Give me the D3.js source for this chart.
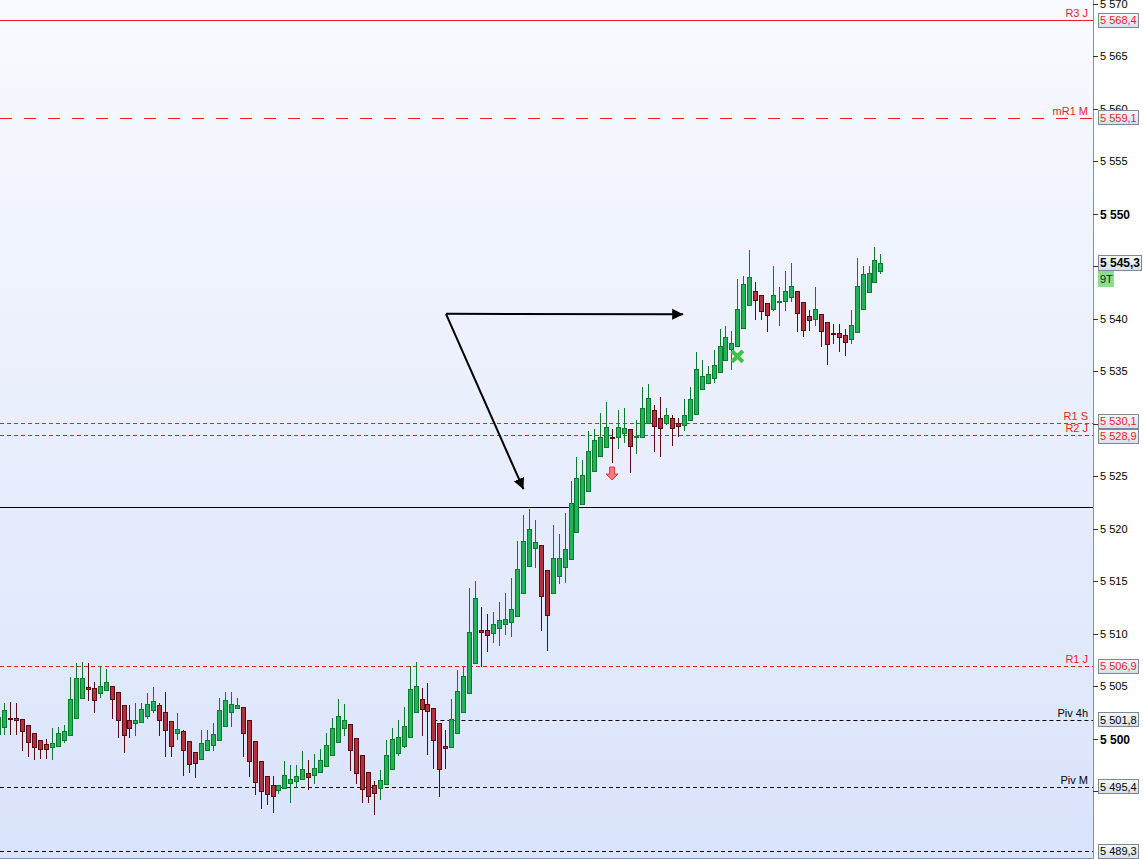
<!DOCTYPE html>
<html><head><meta charset="utf-8">
<script src="https://cdn.jsdelivr.net/npm/d3@7"></script>
<style>
body{margin:0;background:#fff;}
svg{display:block;font-family:"Liberation Sans",Arial,sans-serif;}
</style>
</head><body>
<svg id="chart" width="1143" height="859"></svg>
<script>
// ---------------- DATA ----------------
const open  = [5500.4,5501.1,5502.0,5502.0,5501.9,5501.3,5500.5,5499.9,5499.5,5499.2,5499.3,5499.9,5500.3,5502.0,5503.9,5504.9,5504.8,5504.3,5504.6,5505.0,
5504.4,5503.2,5501.8,5501.5,5501.6,5502.2,5502.7,5503.2,5502.5,5501.7,5500.5,5500.7,5499.8,5498.7,5498.1,5498.9,5499.4,5499.9,5501.2,5502.5,
5502.9,5503.0,5501.8,5499.8,5497.9,5496.4,5495.6,5495.1,5495.3,5495.8,5496.0,5496.2,5496.7,5496.5,5496.8,5497.4,5498.4,5499.7,5501.0,5501.4,
5500.1,5498.4,5496.8,5495.6,5495.3,5495.7,5497.1,5498.6,5499.3,5500.2,5502.5,5503.8,5503.3,5502.9,5501.5,5499.3,5499.2,5500.5,5502.5,5504.3,
5507.2,5510.3,5510.3,5510.1,5510.5,5510.9,5511.1,5511.7,5513.9,5516.4,5518.2,5518.4,5516.1,5513.9,5515.5,5516.3,5517.1,5519.7,5522.3,5523.6,
5525.5,5526.9,5527.8,5528.7,5528.7,5529.1,5529.5,5528.7,5528.7,5530.1,5531.3,5530.5,5530.1,5530.5,5530.1,5529.9,5530.3,5530.9,5533.3,5533.9,
5534.3,5534.9,5536.1,5537.1,5537.4,5539.1,5541.3,5542.6,5542.2,5541.5,5540.9,5541.6,5541.7,5542.1,5542.6,5541.6,5540.2,5540.0,5540.4,5539.7,
5538.62,5538.6,5538.4,5538.1,5538.7,5540.9,5542.5,5543.5,5544.5];
const high  = [5502.3,5503.4,5503.5,5503.4,5501.9,5501.3,5500.5,5499.9,5500.0,5501.0,5501.1,5501.3,5505.9,5507.2,5507.3,5507.2,5505.4,5506.9,5506.6,5505.0,
5504.4,5503.2,5503.2,5503.4,5503.4,5504.3,5504.9,5503.4,5504.4,5501.7,5502.4,5500.8,5499.8,5498.7,5500.8,5500.8,5501.5,5503.9,5504.4,5504.4,
5503.9,5503.0,5501.8,5499.8,5497.9,5496.4,5496.4,5495.6,5497.9,5497.5,5497.5,5498.8,5498.0,5498.5,5499.0,5500.5,5502.0,5503.8,5503.3,5501.4,
5500.1,5498.4,5496.8,5496.0,5497.0,5499.9,5501.0,5501.8,5503.0,5506.9,5507.3,5504.8,5505.3,5502.9,5501.5,5500.8,5503.8,5506.5,5506.8,5514.3,
5515.0,5512.5,5511.9,5512.1,5513.0,5513.9,5515.3,5518.8,5521.3,5521.9,5520.8,5518.4,5516.1,5520.3,5519.5,5521.5,5524.5,5526.8,5526.5,5529.3,
5529.5,5531.0,5532.1,5529.5,5531.3,5531.5,5529.5,5530.3,5533.5,5533.8,5531.8,5532.5,5531.5,5530.8,5530.5,5532.3,5533.5,5536.8,5536.1,5535.5,
5537.0,5539.0,5539.3,5538.8,5543.8,5544.1,5546.5,5543.5,5542.2,5541.5,5545.0,5543.0,5544.5,5545.3,5542.6,5541.6,5540.8,5543.0,5540.4,5539.7,
5539.5,5539.5,5539.0,5540.8,5545.8,5545.0,5545.0,5546.8,5546.1];
const low   = [5500.3,5500.4,5500.4,5500.4,5498.9,5498.3,5498.1,5498.2,5498.2,5498.1,5499.3,5499.7,5500.3,5502.0,5503.9,5503.7,5502.5,5504.0,5504.6,5502.0,
5500.2,5498.7,5500.2,5500.3,5501.6,5502.0,5502.5,5500.3,5498.3,5498.3,5500.0,5496.5,5496.8,5496.3,5498.1,5498.9,5498.9,5499.9,5501.2,5501.2,
5502.9,5498.3,5496.4,5494.7,5493.4,5493.8,5493.0,5494.8,5495.3,5494.0,5495.4,5496.2,5495.2,5495.8,5496.8,5497.4,5498.4,5499.7,5500.3,5497.0,
5495.8,5494.0,5494.0,5492.8,5494.3,5495.7,5497.1,5498.4,5499.2,5500.2,5502.5,5500.3,5498.5,5497.2,5494.5,5497.2,5499.2,5500.5,5502.5,5504.3,
5507.2,5506.9,5508.3,5509.2,5508.9,5510.0,5509.8,5511.7,5513.9,5516.4,5516.3,5510.3,5508.4,5513.9,5514.8,5514.9,5517.1,5519.7,5522.3,5523.6,
5525.5,5526.9,5527.8,5526.3,5527.7,5528.2,5525.4,5527.2,5528.7,5530.1,5527.4,5526.9,5530.0,5528.0,5528.8,5529.4,5530.3,5530.9,5533.3,5533.9,
5534.0,5534.9,5536.1,5535.2,5537.4,5539.1,5541.3,5540.0,5540.0,5538.8,5540.8,5539.4,5540.8,5541.7,5538.8,5538.3,5538.9,5539.4,5537.4,5535.7,
5537.7,5536.9,5536.5,5537.7,5538.7,5540.9,5542.5,5543.5,5544.3];
const close = [5502.1,5502.7,5501.9,5501.8,5500.7,5499.7,5499.2,5499.0,5499.0,5499.6,5500.5,5500.7,5503.8,5505.8,5505.8,5504.7,5503.7,5505.0,5505.4,5503.8,
5501.8,5500.3,5501.0,5501.8,5502.8,5503.3,5503.6,5501.8,5500.8,5499.3,5500.9,5498.9,5497.6,5497.7,5499.6,5499.9,5500.4,5502.7,5503.7,5503.3,
5503.2,5500.5,5497.9,5495.9,5495.0,5494.7,5494.5,5495.6,5496.5,5496.2,5496.4,5497.1,5496.3,5497.2,5498.0,5499.4,5501.0,5502.2,5501.8,5498.9,
5496.7,5495.2,5494.5,5494.8,5496.1,5498.4,5500.0,5500.2,5501.2,5504.7,5505.0,5502.8,5502.6,5499.9,5497.1,5499.1,5501.9,5504.5,5506.0,5510.2,
5513.4,5510.2,5509.9,5510.9,5511.3,5511.4,5512.3,5516.2,5518.8,5520.0,5518.7,5513.6,5511.8,5517.2,5517.2,5518.1,5522.4,5524.8,5525.1,5527.4,
5528.4,5528.7,5529.7,5528.6,5529.7,5529.6,5527.9,5528.8,5531.5,5532.4,5529.8,5529.6,5530.8,5529.6,5529.8,5530.8,5532.3,5535.2,5534.5,5534.7,
5535.6,5537.4,5538.2,5537.7,5540.9,5543.3,5544.0,5541.8,5540.7,5540.3,5542.2,5541.7,5542.6,5543.1,5540.5,5538.9,5539.9,5540.9,5538.8,5537.6,
5538.58,5538.2,5537.8,5539.4,5543.1,5544.2,5544.3,5545.6,5545.3];

const yTicks     = [5495,5500,5505,5510,5515,5520,5525,5530,5535,5540,5545,5550,5555,5560,5565,5570];
const boldTicks  = [5500,5550];
const levelNames  = ["R3 J","mR1 M","R1 S","R2 J","R1 J","Piv 4h","Piv M",""];
const levelValues = [5568.4,5559.1,5530.1,5528.9,5506.9,5501.8,5495.4,5489.3];
const levelStartIndex = [0,0,0,0,0,73,0,0];
const lastPrice = 5545.3;
const lastTag = "9T";
const trendLevel = 5522.1;
const arrowOrigin = {i:75.1, p:5540.45};
const arrowTargets = [{i:88.1, p:5523.75},{i:114.9, p:5540.4}];
const sellSignal = {i:103, p:5525.9};
const crossSignal = {i:124, p:5536.4};

// ---------------- STYLE / LAYOUT ----------------
const W = 1143, H = 859, plotR = 1093, plotB = 858;
const levelStyle = {
  "R3 J":{c:"#ee1c25",dash:null},
  "mR1 M":{c:"#ee1c25",dash:"12,12"},
  "R1 S":{c:"#ee1c25",dash:"4,3"},
  "R2 J":{c:"#ee1c25",dash:"4,3"},
  "R1 J":{c:"#ee1c25",dash:"4,3"},
  "Piv 4h":{c:"#000",dash:"4,3"},
  "Piv M":{c:"#000",dash:"4,3"},
  "":{c:"#000",dash:"4,3"}
};

const svg = d3.select("#chart");
const x = d3.scaleLinear().domain([0, 148]).range([-1.63, 880.45]);
const y = d3.scaleLinear().domain([5570, 5490]).range([3.5, 3.5 + 80 * 10.502]);
const loc = d3.formatLocale({decimal:",", thousands:" ", grouping:[3], currency:["",""]});
const fmtInt = loc.format(",.0f");
const fmt1   = loc.format(",.1f");

const defs = svg.append("defs");
const bg = defs.append("linearGradient").attr("id","bg").attr("x1",0).attr("y1",0).attr("x2",0).attr("y2",1);
bg.append("stop").attr("offset","0%").attr("stop-color","#f9fafe");
bg.append("stop").attr("offset","100%").attr("stop-color","#d9e3fb");
const bx = defs.append("linearGradient").attr("id","boxg").attr("x1",0).attr("y1",0).attr("x2",0).attr("y2",1);
bx.append("stop").attr("offset","0%").attr("stop-color","#f6f8fc");
bx.append("stop").attr("offset","100%").attr("stop-color","#d8dfea");
defs.append("clipPath").attr("id","clip").append("rect").attr("x",0).attr("y",0).attr("width",plotR).attr("height",plotB);
const mk = defs.append("marker").attr("id","ah").attr("viewBox","0 0 10 10").attr("refX",10).attr("refY",5)
  .attr("markerWidth",11).attr("markerHeight",12).attr("markerUnits","userSpaceOnUse").attr("orient","auto");
mk.append("path").attr("d","M0,0 L10,5 L0,10 Z").attr("fill","#000");

svg.append("rect").attr("width",W).attr("height",H).attr("fill","#fff");
svg.append("rect").attr("width",plotR).attr("height",plotB).attr("fill","url(#bg)");

const plot = svg.append("g").attr("clip-path","url(#clip)");

// level lines
const crisp = v => Math.round(v) + 0.5;
levelValues.forEach((v,k) => {
  const st = levelStyle[levelNames[k]];
  plot.append("line")
    .attr("x1", levelStartIndex[k] ? x(levelStartIndex[k]) : 0).attr("x2", plotR)
    .attr("y1", crisp(y(v))).attr("y2", crisp(y(v)))
    .attr("stroke", st.c).attr("stroke-width",1)
    .attr("stroke-dasharray", st.dash);
});
plot.append("line").attr("x1",0).attr("x2",plotR)
  .attr("y1",crisp(y(trendLevel))).attr("y2",crisp(y(trendLevel)))
  .attr("stroke","#000").attr("stroke-width",1);

// candles
const data = open.map((o,i)=>({i,o,h:high[i],l:low[i],c:close[i]}));
const up = d => d.c >= d.o;
const cg = plot.append("g");
const g = cg.selectAll("g").data(data).join("g");
g.append("line")
  .attr("x1", d=>Math.round(x(d.i))+0.5).attr("x2", d=>Math.round(x(d.i))+0.5)
  .attr("y1", d=>Math.round(y(d.h))).attr("y2", d=>Math.round(y(d.l))+1)
  .attr("stroke", d=>up(d)?"#0b7a2e":"#5c0a12").attr("stroke-width",1);
g.append("rect")
  .attr("x", d=>Math.round(x(d.i))-2+0.5).attr("width",4)
  .attr("y", d=>crisp(y(Math.max(d.o,d.c))))
  .attr("height", d=>Math.max(1, Math.round(y(Math.min(d.o,d.c))) - Math.round(y(Math.max(d.o,d.c)))))
  .attr("fill", d=>up(d)?"#22b257":"#b3303f")
  .attr("stroke", d=>up(d)?"#0b7a2e":"#5c0a12").attr("stroke-width",1);

// annotation arrows
arrowTargets.forEach(t => {
  plot.append("line")
    .attr("x1", x(arrowOrigin.i)).attr("y1", y(arrowOrigin.p))
    .attr("x2", x(t.i)).attr("y2", y(t.p))
    .attr("stroke","#000").attr("stroke-width",2)
    .attr("marker-end","url(#ah)");
});

// sell signal (red down arrow)
const sx = Math.round(x(sellSignal.i)), sy = Math.round(y(sellSignal.p));
plot.append("path")
  .attr("d", `M${sx-2.5},${sy} h5 v7 h3.5 l-6,6 l-6,-6 h3.5 z`)
  .attr("fill","#f27a7a").attr("stroke","#e8393c").attr("stroke-width",1);

// green cross signal
const gx = x(crossSignal.i), gy = y(crossSignal.p);
plot.append("path")
  .attr("d", `M${gx-4},${gy-4} L${gx+4},${gy+4} M${gx+4},${gy-4} L${gx-4},${gy+4}`)
  .attr("stroke","#3cc43c").attr("stroke-width",4).attr("stroke-linecap","square");

// level labels inside plot
levelValues.forEach((v,k) => {
  if (!levelNames[k]) return;
  svg.append("text").attr("x",1088).attr("y",Math.round(y(v))-3)
    .attr("text-anchor","end").attr("font-size",11)
    .attr("fill", levelStyle[levelNames[k]].c).text(levelNames[k]);
});

// frame
svg.append("line").attr("x1",plotR+0.5).attr("x2",plotR+0.5).attr("y1",0).attr("y2",plotB+0.5).attr("stroke","#8592a0");
svg.append("line").attr("x1",0).attr("x2",plotR+0.5).attr("y1",plotB+0.5).attr("y2",plotB+0.5).attr("stroke","#8592a0");

// level value box centres with simple overlap resolution
const boxH = 15;
let centers = levelValues.map(v => y(v));
for (let it=0; it<5; it++) {
  const idx = d3.range(centers.length).sort((a,b)=>centers[a]-centers[b]);
  for (let j=1;j<idx.length;j++){
    const a=idx[j-1], b=idx[j];
    const ov = boxH - (centers[b]-centers[a]);
    if (ov>0){ centers[a]-=ov/2; centers[b]+=ov/2; }
  }
}
const occupied = centers.concat([y(lastPrice)]);

// y axis ticks (labels hidden where a value box covers them)
const axis = svg.append("g");
yTicks.forEach(t => {
  const ty = crisp(y(t));
  axis.append("line").attr("x1",plotR).attr("x2",plotR+5).attr("y1",ty).attr("y2",ty).attr("stroke","#333");
  if (occupied.some(c => Math.abs(c - ty) < 8)) return;
  axis.append("text").attr("x",plotR+7).attr("y",ty).attr("dy","0.36em")
    .attr("font-size", boldTicks.includes(t)?12:11)
    .attr("font-weight", boldTicks.includes(t)?"bold":"normal")
    .attr("fill","#000").text(fmtInt(t));
});

levelValues.forEach((v,k) => {
  const cy = centers[k];
  const col = levelNames[k].startsWith("Piv") || !levelNames[k] ? "#000" : "#ee1c25";
  svg.append("rect").attr("x",1098.5).attr("y",Math.round(cy-boxH/2)+0.5).attr("width",40).attr("height",boxH-1)
    .attr("fill","url(#boxg)").attr("stroke","#7b8898");
  svg.append("text").attr("x",1100).attr("y",cy).attr("dy","0.36em").attr("font-size",11)
    .attr("fill",col).text(fmt1(v));
});

// last price box
const ly = y(lastPrice);
svg.append("rect").attr("x",1098.5).attr("y",Math.round(ly-8)+0.5).attr("width",43).attr("height",15)
  .attr("fill","url(#boxg)").attr("stroke","#7b8898");
svg.append("text").attr("x",1100).attr("y",ly).attr("dy","0.36em").attr("font-size",12).attr("font-weight","bold")
  .attr("fill","#000").text(fmt1(lastPrice));
svg.append("rect").attr("x",1098).attr("y",Math.round(ly+8)).attr("width",16).attr("height",16).attr("fill","#8fdc8f");
svg.append("text").attr("x",1100).attr("y",Math.round(ly+16)).attr("dy","0.36em").attr("font-size",11)
  .attr("fill","#222").text(lastTag);
</script>
</body></html>
